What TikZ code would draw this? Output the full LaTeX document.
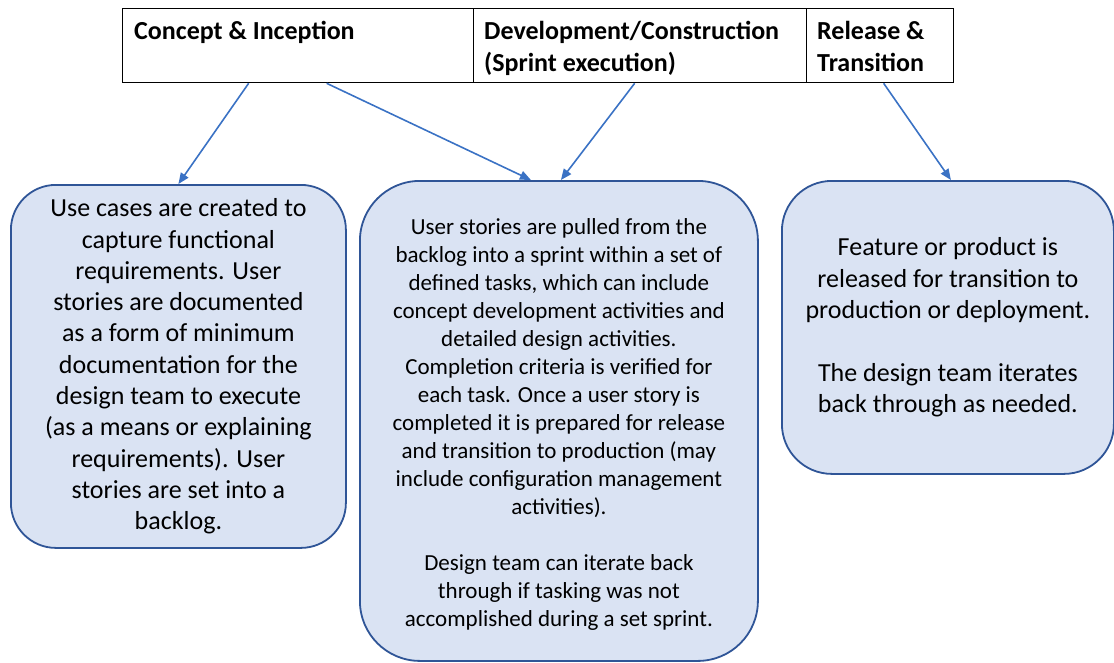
\documentclass[tikz,border=0pt]{standalone}
\usepackage{fontspec}
\setmainfont{Carlito}
\usetikzlibrary{arrows.meta}
\definecolor{boxfill}{RGB}{218,227,243}
\definecolor{boxline}{RGB}{47,85,151}
\definecolor{arrowblue}{RGB}{58,114,196}
\begin{document}
\begin{tikzpicture}[x=1pt,y=-1pt,
  phase/.style={draw=black, line width=1.3pt, minimum height=74pt, inner sep=0pt, anchor=north west},
  phasetext/.style={anchor=base west, inner sep=0pt, align=left, font=\bfseries\fontsize{26}{31.5}\selectfont},
  card/.style={draw=boxline, fill=boxfill, line width=1.8pt, inner sep=0pt, align=center, anchor=north west},
  flow/.style={draw=arrowblue, line width=1.6pt, -{Triangle[length=11pt,width=9pt]}}
]
\useasboundingbox (0,0) rectangle (1114,662);

% phase header row
\node[phase, minimum width=351pt] (h1) at (122,8) {};
\node[phase, minimum width=333pt] (h2) at (473,8) {};
\node[phase, minimum width=147pt] (h3) at (806,8) {};
% base anchor sits on the last line of a multi-line node
\node[phasetext] (t1) at (134,39) {Concept \& Inception};
\node[phasetext] (t2) at (484,71) {Development/Construction\\(Sprint execution)};
\node[phasetext] (t3) at (817,71) {Release \&\\Transition};

% activity cards
\node[card, minimum width=335pt, minimum height=363pt, rounded corners=45pt,
      font=\fontsize{26}{31.3}\selectfont] (lbox) at (10,184)
  {Use cases are created to\\capture functional\\requirements. User\\stories are documented\\as a form of minimum\\documentation for the\\design team to execute\\(as a means or explaining\\requirements). User\\stories are set into a\\backlog.};
\node[card, minimum width=398pt, minimum height=480pt, rounded corners=60pt] (mbox) at (359,180) {};
\node[inner sep=0pt, align=center, font=\fontsize{23}{28}\selectfont] (mtext) at ([yshift=-4pt]mbox.center)
  {User stories are pulled from the\\backlog into a sprint within a set of\\defined tasks, which can include\\concept development activities and\\detailed design activities.\\Completion criteria is verified for\\each task. Once a user story is\\completed it is prepared for release\\and transition to production (may\\include configuration management\\activities).\\[28pt]Design team can iterate back\\through if tasking was not\\accomplished during a set sprint.};
\node[card, minimum width=332pt, minimum height=293pt, rounded corners=50pt,
      font=\fontsize{26}{31.3}\selectfont] (rbox) at (781,180)
  {Feature or product is\\released for transition to\\production or deployment.\\[31.3pt]The design team iterates\\back through as needed.};

% connectors
\draw[flow] ([xshift=-49.5pt]h1.south) -- (lbox.north);
\draw[flow] ([xshift=28.5pt]h1.south) -- ([xshift=-28pt]mbox.north);
\draw[flow] ([xshift=-5.5pt]h2.south) -- ([xshift=2pt]mbox.north);
\draw[flow] ([xshift=3.5pt]h3.south) -- ([xshift=3pt]rbox.north);
\end{tikzpicture}
\end{document}
